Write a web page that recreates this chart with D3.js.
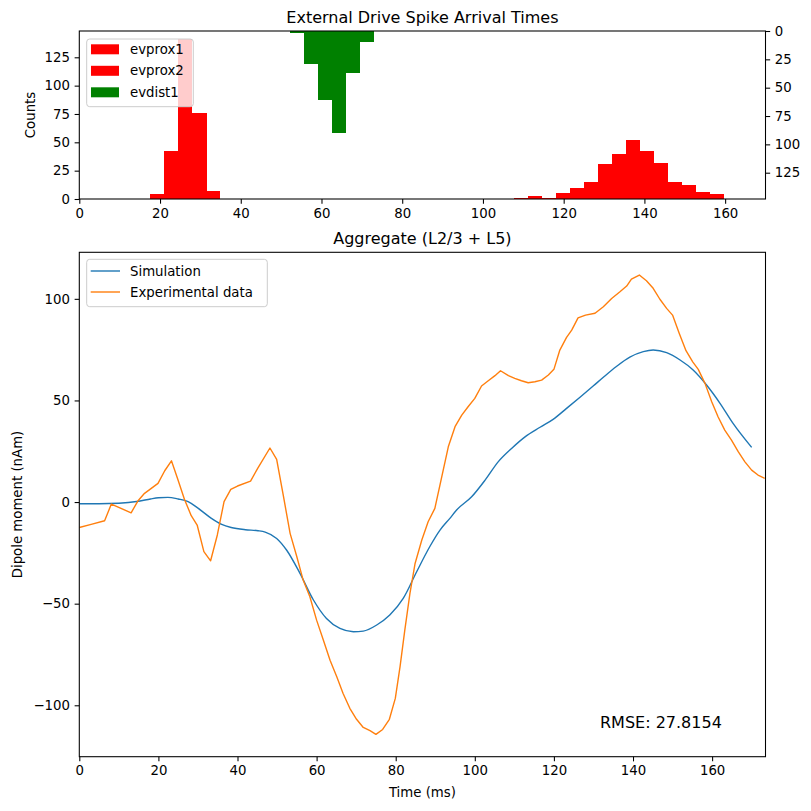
<!DOCTYPE html>
<html><head><meta charset="utf-8">
<script src="https://cdn.jsdelivr.net/npm/d3@7"></script>
<style>
html,body{margin:0;padding:0;background:#fff;}
svg{display:block;font-family:"DejaVu Sans",sans-serif;}
</style></head>
<body>
<svg id="chart" width="811" height="811"></svg>
<script>
// ---------- data ----------
const binWidth = 3.465;
const evprox1Bins = [17.55, 21.02, 24.48, 27.95, 31.41];
const evprox1Counts = [4, 42, 141, 76, 7];
const evdist1Bins = [52.2, 55.67, 59.13, 62.6, 66.06, 69.53];
const evdist1Counts = [2, 29, 61, 90, 37, 10];
const evprox2Bins = [107.64, 111.11, 114.57, 118.04, 121.5, 124.97, 128.43, 131.9, 135.36, 138.83, 142.29, 145.76, 149.22, 152.69, 156.15];
const evprox2Counts = [1, 3, 1, 5, 10, 15, 31, 40, 52, 42, 32, 15, 12, 6, 4];
const histTicks = [0, 25, 50, 75, 100, 125];
const timeTicks = [0, 20, 40, 60, 80, 100, 120, 140, 160];
const dipoleTicks = [-100, -50, 0, 50, 100];

const simTime = [0, 5, 10, 15, 18, 20, 22.4, 25, 27.5, 30, 33.4, 36, 38.4, 42, 45.2, 47, 49.9, 52.4, 55.8, 59.2, 62.5, 65.9, 69.3, 71.8, 75.2, 78.5, 81.9, 85.3, 88.6, 91.2, 93.7, 95.4, 99.2, 102.6, 105.9, 109.3, 112.7, 116.5, 119.8, 123.2, 126.6, 130, 132.5, 135.8, 139.2, 142.6, 145.1, 148.5, 151.9, 155.2, 158.6, 162, 165.3, 170];
const simDipole = [-0.8, -0.8, -0.6, 0.4, 1.5, 2.1, 2.3, 1.5, 0.2, -3, -8, -11, -12.5, -13.6, -14.1, -14.8, -17.9, -23.6, -35.1, -48.2, -57.3, -62.2, -63.8, -63.5, -60.5, -55.6, -47.4, -34.3, -22, -13.8, -8, -3.9, 2.6, 10.8, 19.8, 26.4, 32.1, 36.8, 40.7, 46.1, 51.6, 57.2, 61.4, 66.7, 71.3, 74, 74.8, 73.5, 69.9, 65, 57.6, 48.6, 38.7, 26.9];

const expTime = [0, 3, 6.4, 8.1, 13.1, 14.8, 16.5, 19.9, 21.6, 23.3, 24.9, 26.6, 28.3, 29.8, 31.5, 33.2, 34.9, 36.6, 38.3, 40, 43.3, 45.1, 48.2, 49.9, 51.6, 53.3, 55, 56.6, 58.3, 60, 61.7, 63.4, 65.1, 66.7, 68.4, 70.1, 71.8, 73.5, 75, 76.7, 78.4, 79.9, 81.1, 82.3, 83.6, 84.9, 86.6, 88.2, 89.9, 91.6, 93.3, 95, 96.7, 98.3, 100, 101.7, 103.4, 105.1, 106.5, 108.5, 110.1, 111.8, 113.5, 115.2, 116.9, 118.6, 120, 121.5, 123.2, 124.5, 126.1, 128, 130.4, 132.5, 134.6, 136.7, 138.4, 139.6, 141.6, 143.4, 145.1, 146.8, 148.5, 150, 151.7, 153.4, 155.1, 156.5, 158.2, 159.9, 161.5, 163.2, 164.9, 166.6, 168.3, 170, 171.6, 173.3];
const expDipole = [-12.5, -11, -9.2, -1, -5.3, 0.5, 4.3, 9.2, 15.4, 20.3, 11.2, 1.3, -6.7, -11.3, -24.4, -28.9, -16.2, 0.2, 6.2, 7.9, 10.3, 16.6, 26.6, 21, 3, -15.4, -26.9, -38.4, -46.6, -58.1, -67.9, -77.8, -86, -94.2, -101.5, -106.9, -110.9, -112.5, -114.3, -111.9, -106.9, -96.6, -81, -63, -44.9, -30.2, -18.7, -9.7, -3.1, 12, 27.2, 37.1, 42.8, 46.9, 51, 57.1, 59.7, 62.2, 64.6, 62.2, 60.9, 59.7, 58.7, 59.2, 60, 62.5, 65.3, 74.8, 81, 84.6, 90.6, 92, 92.9, 96.1, 100.2, 103.5, 106.3, 109.7, 111.7, 108.9, 105.2, 99.8, 95.3, 92, 83, 74.5, 69, 65.3, 58.4, 49.4, 42, 35.4, 30.5, 24.8, 19.8, 15.7, 13.3, 11.7];

const rmseText = "RMSE: 27.8154";

// ---------- layout ----------
const svg = d3.select("#chart");
const L = 79.3, R = 765.5;
const topT = 31, topB = 199;
const botT = 252.3, botB = 756.7;
const FS = "13.3px";

// ---------- top: histograms ----------
const xTop = d3.scaleLinear().domain([0, 170]).range([L, R]);
const yTopL = d3.scaleLinear().domain([0, 148.2]).range([topB, topT]);
const yTopR = d3.scaleLinear().domain([0, 148.2]).range([topT, topB]);

const gTop = svg.append("g");
function bars(starts, counts, color, yScale, inverted) {
  gTop.selectAll(null).data(starts.map((s, i) => ({s, c: counts[i]}))).enter()
    .append("rect")
    .attr("x", d => xTop(d.s))
    .attr("width", d => xTop(d.s + binWidth) - xTop(d.s) + 0.4)
    .attr("y", d => inverted ? yScale(0) : yScale(d.c))
    .attr("height", d => Math.abs(yScale(d.c) - yScale(0)))
    .attr("fill", color)
    .attr("shape-rendering", "crispEdges");
}
bars(evprox1Bins, evprox1Counts, "#ff0000", yTopL, false);
bars(evprox2Bins, evprox2Counts, "#ff0000", yTopL, false);
bars(evdist1Bins, evdist1Counts, "#008000", yTopR, true);

function styleAxis(g) {
  g.select(".domain").remove();
  g.selectAll(".tick line").attr("stroke", "#000").attr("stroke-width", 1.07);
  g.selectAll(".tick text").attr("fill", "#000").style("font-size", FS).style("font-family", "DejaVu Sans");
}
const tickFmt = d => d < 0 ? "\u2212" + Math.abs(d) : String(d);

gTop.append("g").attr("transform", `translate(0,${topB})`)
  .call(d3.axisBottom(xTop).tickValues(timeTicks).tickSize(4.67).tickPadding(4.67).tickFormat(tickFmt))
  .call(styleAxis);
gTop.append("g").attr("transform", `translate(${L},0)`)
  .call(d3.axisLeft(yTopL).tickValues(histTicks).tickSize(4.67).tickPadding(4.67).tickFormat(tickFmt))
  .call(styleAxis);
gTop.append("g").attr("transform", `translate(${R},0)`)
  .call(d3.axisRight(yTopR).tickValues(histTicks).tickSize(4.67).tickPadding(4.67).tickFormat(tickFmt))
  .call(styleAxis);
gTop.append("rect").attr("x", L).attr("y", topT).attr("width", R - L).attr("height", topB - topT)
  .attr("fill", "none").attr("stroke", "#000").attr("stroke-width", 1.07);

gTop.append("text").attr("x", (L + R) / 2).attr("y", topT - 8).attr("text-anchor", "middle")
  .style("font-size", "16px").text("External Drive Spike Arrival Times");
gTop.append("text").attr("transform", `translate(30,${(topT + topB) / 2}) rotate(-90)`)
  .attr("text-anchor", "middle").attr("dy", "0.35em").style("font-size", FS).text("Counts");

// top legend
const legTop = [
  {label: "evprox1", color: "#ff0000"},
  {label: "evprox2", color: "#ff0000"},
  {label: "evdist1", color: "#008000"}
];
const lg1 = svg.append("g");
lg1.append("rect").attr("x", 86.7).attr("y", 39).attr("width", 106.6).attr("height", 67.7)
  .attr("rx", 3).attr("fill", "#fff").attr("fill-opacity", 0.8).attr("stroke", "#cccccc").attr("stroke-width", 1);
legTop.forEach((d, i) => {
  const cy = 49.3 + i * 21.5;
  lg1.append("rect").attr("x", 91).attr("y", cy - 5).attr("width", 28).attr("height", 10).attr("fill", d.color);
  lg1.append("text").attr("x", 130).attr("y", cy).attr("dy", "0.35em").style("font-size", FS).text(d.label);
});

// ---------- bottom: dipole ----------
const xBot = d3.scaleLinear().domain([0, 173.5]).range([L, R]);
const yBot = d3.scaleLinear().domain([-125.3, 122.9]).range([botB, botT]);
const gBot = svg.append("g");

gBot.append("defs").append("clipPath").attr("id", "clipB").append("rect")
  .attr("x", L).attr("y", botT).attr("width", R - L).attr("height", botB - botT);

const simData = simTime.map((t, i) => [t, simDipole[i]]);
const expData = expTime.map((t, i) => [t, expDipole[i]]);
const lineSim = d3.line().x(d => xBot(d[0])).y(d => yBot(d[1])).curve(d3.curveMonotoneX);
const lineExp = d3.line().x(d => xBot(d[0])).y(d => yBot(d[1]));

gBot.append("path").attr("d", lineSim(simData)).attr("fill", "none")
  .attr("stroke", "#1f77b4").attr("stroke-width", 1.4).attr("clip-path", "url(#clipB)");
gBot.append("path").attr("d", lineExp(expData)).attr("fill", "none")
  .attr("stroke", "#ff7f0e").attr("stroke-width", 1.4).attr("stroke-linejoin", "round").attr("clip-path", "url(#clipB)");

gBot.append("g").attr("transform", `translate(0,${botB})`)
  .call(d3.axisBottom(xBot).tickValues(timeTicks).tickSize(4.67).tickPadding(4.67).tickFormat(tickFmt))
  .call(styleAxis);
gBot.append("g").attr("transform", `translate(${L},0)`)
  .call(d3.axisLeft(yBot).tickValues(dipoleTicks).tickSize(4.67).tickPadding(4.67).tickFormat(tickFmt))
  .call(styleAxis);
gBot.append("rect").attr("x", L).attr("y", botT).attr("width", R - L).attr("height", botB - botT)
  .attr("fill", "none").attr("stroke", "#000").attr("stroke-width", 1.07);

gBot.append("text").attr("x", (L + R) / 2).attr("y", botT - 8).attr("text-anchor", "middle")
  .style("font-size", "16px").text("Aggregate (L2/3 + L5)");
gBot.append("text").attr("x", (L + R) / 2).attr("y", 797).attr("text-anchor", "middle")
  .style("font-size", FS).text("Time (ms)");
gBot.append("text").attr("transform", `translate(17,${(botT + botB) / 2}) rotate(-90)`)
  .attr("text-anchor", "middle").attr("dy", "0.35em").style("font-size", FS).text("Dipole moment (nAm)");
gBot.append("text").attr("x", 600).attr("y", 728.3).style("font-size", "16px").text(rmseText);

// bottom legend
const legBot = [
  {label: "Simulation", color: "#1f77b4"},
  {label: "Experimental data", color: "#ff7f0e"}
];
const lg2 = svg.append("g");
lg2.append("rect").attr("x", 86.7).attr("y", 259.3).attr("width", 180.6).attr("height", 47.4)
  .attr("rx", 3).attr("fill", "#fff").attr("fill-opacity", 0.8).attr("stroke", "#cccccc").attr("stroke-width", 1);
legBot.forEach((d, i) => {
  const cy = 271 + i * 21;
  lg2.append("line").attr("x1", 90.7).attr("x2", 120).attr("y1", cy).attr("y2", cy)
    .attr("stroke", d.color).attr("stroke-width", 1.4);
  lg2.append("text").attr("x", 130).attr("y", cy).attr("dy", "0.35em").style("font-size", FS).text(d.label);
});
</script>
</body></html>
